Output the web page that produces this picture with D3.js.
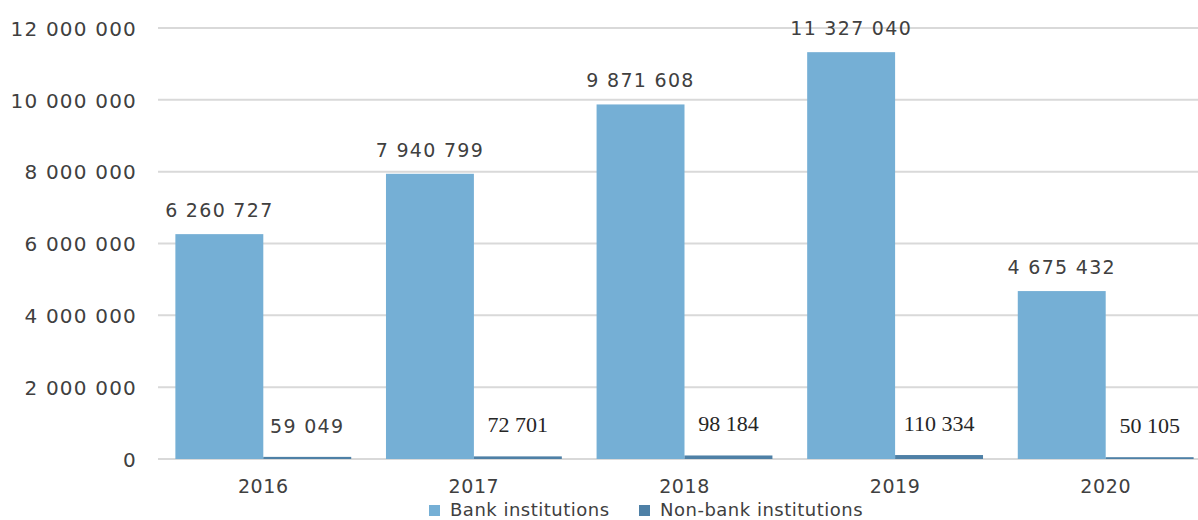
<!DOCTYPE html>
<html><head><meta charset="utf-8">
<script src="https://cdn.jsdelivr.net/npm/d3@7"></script>
<style>
body{margin:0;background:#fff;}
svg{display:block;}
</style></head>
<body>
<svg id="chart" width="1198" height="520"></svg>
<script>
const years = ["2016","2017","2018","2019","2020"];
const bankValues = [6260727, 7940799, 9871608, 11327040, 4675432];
const nonBankValues = [59049, 72701, 98184, 110334, 50105];
const seriesNames = ["Bank institutions", "Non-bank institutions"];
const seriesColors = ["#75AFD5", "#4E80A6"];
const yTicks = [0, 2000000, 4000000, 6000000, 8000000, 10000000, 12000000];

const svg = d3.select("#chart");
const W = 1198, H = 520;
const plot = {left: 158, right: 1211, top: 28, bottom: 459};
const sansFont = "'DejaVu Sans', sans-serif";
const serifFont = "'Liberation Serif', 'Times New Roman', serif";
const textColor = "#404040";

const locale = d3.formatLocale({decimal: ".", thousands: " ", grouping: [3], currency: ["", ""]});
const fmt = locale.format(",d");

const y = d3.scaleLinear().domain([0, 12000000]).range([plot.bottom, plot.top]);
const x0 = d3.scaleBand().domain(years).range([plot.left, plot.right])
  .paddingInner(0.165).paddingOuter(0.0825);
const x1 = d3.scaleBand().domain([0, 1]).range([0, x0.bandwidth()]);

// gridlines
const grid = svg.append("g");
grid.selectAll("line").data(yTicks).join("line")
  .attr("x1", plot.left).attr("x2", W)
  .attr("y1", d => y(d)).attr("y2", d => y(d))
  .attr("stroke", "#d9d9d9").attr("stroke-width", 2);

// y axis labels
const yAxis = d3.axisLeft(y).tickValues(yTicks).tickFormat(fmt).tickSize(0).tickPadding(0);
const yg = svg.append("g").attr("transform", `translate(137,0)`).call(yAxis);
yg.select(".domain").remove();
yg.selectAll("text").attr("font-family", sansFont).attr("font-size", 20)
  .attr("letter-spacing", 1.2).attr("fill", textColor).attr("dy", "0.36em");

// x axis labels
const xAxis = d3.axisBottom(x0).tickSize(0).tickPadding(0);
const xg = svg.append("g").attr("transform", `translate(0,${plot.bottom + 20})`).call(xAxis);
xg.select(".domain").remove();
xg.selectAll("text").attr("font-family", sansFont).attr("font-size", 19)
  .attr("letter-spacing", 0.6).attr("fill", textColor).attr("dy", "0.71em");

const series = [bankValues, nonBankValues];
const groups = svg.append("g").selectAll("g").data(years).join("g")
  .attr("transform", d => `translate(${x0(d)},0)`);

groups.selectAll("rect").data((d, i) => series.map((s, k) => ({k, v: s[i]}))).join("rect")
  .attr("x", d => x1(d.k)).attr("width", x1.bandwidth())
  .attr("y", d => y(d.v)).attr("height", d => plot.bottom - y(d.v))
  .attr("fill", d => seriesColors[d.k]);

// bank labels
groups.append("text")
  .attr("x", x1(0) + x1.bandwidth() / 2)
  .attr("y", (d, i) => y(bankValues[i]) - 17)
  .attr("text-anchor", "middle")
  .attr("font-family", sansFont).attr("font-size", 19).attr("letter-spacing", 1.3)
  .attr("fill", textColor)
  .text((d, i) => fmt(bankValues[i]));

// non-bank labels (first in sans, rest in serif)
const nb = groups.append("text")
  .attr("x", x1(1) + x1.bandwidth() / 2)
  .attr("y", (d, i) => y(nonBankValues[i]) - 24)
  .attr("text-anchor", "middle")
  .attr("fill", "#262626")
  .text((d, i) => fmt(nonBankValues[i]));
nb.filter((d, i) => i === 0)
  .attr("font-family", sansFont).attr("font-size", 19).attr("letter-spacing", 1.3).attr("fill", textColor);
nb.filter((d, i) => i > 0)
  .attr("font-family", serifFont).attr("font-size", 22);

// legend
const legendX = [429, 639];
const lg = svg.append("g").selectAll("g").data(seriesNames).join("g")
  .attr("transform", (d, i) => `translate(${legendX[i]},505)`);
lg.append("rect").attr("width", 11).attr("height", 11).attr("fill", (d, i) => seriesColors[i]);
lg.append("text").attr("x", 21).attr("y", 11)
  .attr("font-family", sansFont).attr("font-size", 18).attr("letter-spacing", 0.5)
  .attr("fill", textColor).text(d => d);
</script>
</body></html>
